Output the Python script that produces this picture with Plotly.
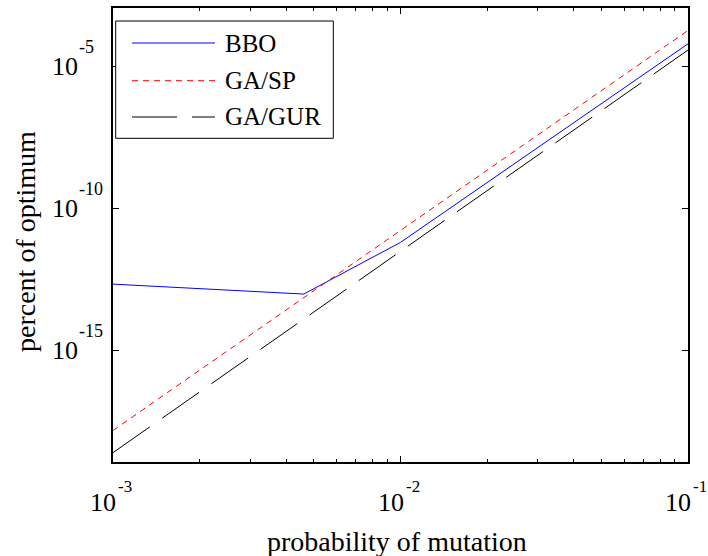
import math
import plotly.graph_objects as go

# ---- data ----
bbo_x = [0.001, 0.00461, 0.01, 0.1]
bbo_y = [2.19e-13, 9.8e-14, 6.46e-12, 6.3e-5]
gasp_x = [0.001, 0.1]
gasp_y = [1.55e-18, 1.86e-4]
gagur_x = [0.001, 0.1]
gagur_y = [2.57e-19, 3.8e-5]

x_tickvals = [1e-3, 1e-2, 1e-1]
x_tick_exp = ["-3", "-2", "-1"]
x_minor = [k * 10.0 ** e for e in (-3, -2) for k in range(2, 10)]
y_tickvals = [1e-15, 1e-10, 1e-5]
y_tick_exp = ["-15", "-10", "-5"]

series_names = ["BBO", "GA/SP", "GA/GUR"]
colors = ["#0000ff", "#ff0000", "#000000"]
dashes = ["solid", "6px,5px", "45px,15px"]

FONT = "Liberation Serif, Times New Roman, serif"

# screen geometry (body margin removed in the page via post_script)
L, R, T, B = 113, 688, 8, 462
W, H = 708, 556

def px(x):
    return (x - L) / (R - L)

def py(y):
    return (B - y) / (B - T)

fig = go.Figure()
for xs, ys, name, c, d in zip([bbo_x, gasp_x, gagur_x], [bbo_y, gasp_y, gagur_y],
                              series_names, colors, dashes):
    fig.add_trace(go.Scatter(x=xs, y=ys, mode="lines", name=name,
                             line=dict(color=c, width=1, dash=d),
                             showlegend=False, hoverinfo="skip"))

# legend drawn in paper coordinates
shapes = [dict(type="rect", xref="paper", yref="paper",
               x0=px(115.7), x1=px(333.3), y0=py(138.3), y1=py(21),
               line=dict(color="black", width=1), fillcolor="white", layer="above")]
annotations = []
rows = [43, 80.7, 117]
for name, c, d, ry in zip(series_names, colors, dashes, rows):
    shapes.append(dict(type="line", xref="paper", yref="paper",
                       x0=px(132), x1=px(215), y0=py(ry), y1=py(ry),
                       line=dict(color=c, width=1, dash=d), layer="above"))
    annotations.append(dict(xref="paper", yref="paper", x=px(223), y=py(ry),
                            text=name, showarrow=False, xanchor="left", yanchor="middle",
                            font=dict(family=FONT, size=25, color="black")))

# tick labels: "10" with raised exponent
for v, e in zip(x_tickvals, x_tick_exp):
    annotations.append(dict(xref="x", yref="paper", x=math.log10(v), y=py(502.8),
                            text="10", showarrow=False, xanchor="right", yanchor="middle",
                            xshift=5, font=dict(family=FONT, size=26, color="black")))
    annotations.append(dict(xref="x", yref="paper", x=math.log10(v), y=py(486),
                            text=e, showarrow=False, xanchor="left", yanchor="middle",
                            xshift=4, borderpad=0,
                            font=dict(family=FONT, size=17, color="black")))
for v, e in zip(y_tickvals, y_tick_exp):
    annotations.append(dict(xref="paper", yref="y", x=px(50), y=math.log10(v),
                            text="10", showarrow=False, xanchor="left", yanchor="middle",
                            font=dict(family=FONT, size=26, color="black")))
    annotations.append(dict(xref="paper", yref="y", x=px(77), y=math.log10(v),
                            text=e, showarrow=False, xanchor="left", yanchor="middle",
                            yshift=20, font=dict(family=FONT, size=18, color="black")))

# axis titles
annotations.append(dict(xref="paper", yref="paper", x=px(397), y=py(541.5),
                        text="probability of mutation", showarrow=False,
                        xanchor="center", yanchor="middle",
                        font=dict(family=FONT, size=28, color="black")))
annotations.append(dict(xref="paper", yref="paper", x=px(25.5), y=py(241.5),
                        text="percent of optimum", showarrow=False, textangle=-90,
                        xanchor="center", yanchor="middle",
                        font=dict(family=FONT, size=28, color="black")))

fig.update_layout(
    width=W, height=H,
    margin=dict(l=L, r=W - R, t=T, b=H - B, autoexpand=False),
    paper_bgcolor="white", plot_bgcolor="white",
    font=dict(family=FONT, size=26, color="black"),
    hovermode=False,
    shapes=shapes, annotations=annotations,
    xaxis=dict(type="log", range=[-3, -1], tickvals=x_tickvals, showticklabels=False,
               ticks="inside", ticklen=6, tickcolor="black", tickwidth=1,
               showline=True, linecolor="black", linewidth=1.5, mirror="ticks",
               showgrid=False, zeroline=False,
               minor=dict(tickvals=x_minor, ticks="inside", ticklen=3, tickcolor="black",
                          showgrid=False)),
    yaxis=dict(type="log", range=[-18.92, -2.94], tickvals=y_tickvals, showticklabels=False,
               ticks="inside", ticklen=6, tickcolor="black", tickwidth=1,
               showline=True, linecolor="black", linewidth=1.5, mirror="ticks",
               showgrid=False, zeroline=False),
)

fig.write_html("out.html",
               config={"displayModeBar": False},
               post_script="document.body.style.margin='0';document.body.style.overflow='hidden';")
